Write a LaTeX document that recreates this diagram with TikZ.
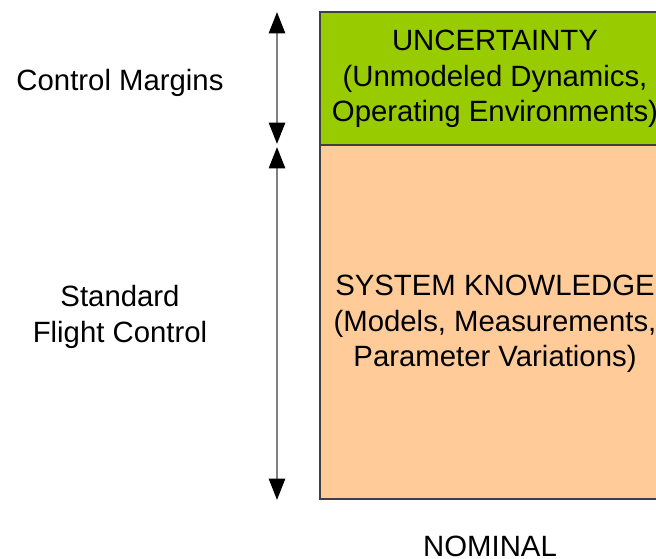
\documentclass[tikz,border=0pt]{standalone}
\usepackage{fontspec}
\setmainfont{Liberation Sans}
\usetikzlibrary{arrows.meta}
\definecolor{uncgreen}{HTML}{99CC00}
\definecolor{knowpeach}{HTML}{FFCC99}
\definecolor{edgegray}{HTML}{404040}
\definecolor{shaftgray}{HTML}{808080}
\begin{document}
\begin{tikzpicture}[x=0.75pt,y=-0.75pt,
  block/.style={draw=edgegray,line width=1.1pt},
  label/.style={font=\fontsize{22}{26.6}\selectfont,align=center,inner sep=0pt},
  span/.style={draw=shaftgray,line width=2pt,
    {Triangle[length=16pt,width=12pt,color=black]}-{Triangle[length=16pt,width=12pt,color=black]},shorten <=0pt,shorten >=0pt}]
  \useasboundingbox (0,0) rectangle (656,558);
  \clip (0,0) rectangle (656,558);
  % stacked blocks
  \path[block,fill=uncgreen] (320,12) rectangle (670,145);
  \path[block,fill=knowpeach] (320,145) rectangle (670,499);
  \node[label] (unc) at (495,79) {UNCERTAINTY\\(Unmodeled Dynamics,\\Operating Environments)};
  \node[label] (know) at (495,324) {SYSTEM KNOWLEDGE\\(Models, Measurements,\\Parameter Variations)};
  \node[label] (nom) at (490,546) {NOMINAL};
  % side labels
  \node[label] (cm) at (120,83) {Control Margins};
  \node[label] (sfc) at (120,317) {Standard\\Flight Control};
  % dimension arrows
  \coordinate (a1) at (277,12);
  \coordinate (a2) at (277,144);
  \coordinate (b1) at (277,147);
  \coordinate (b2) at (277,500);
  \draw[span] (a1) -- (a2);
  \draw[span] (b1) -- (b2);
\end{tikzpicture}
\end{document}
